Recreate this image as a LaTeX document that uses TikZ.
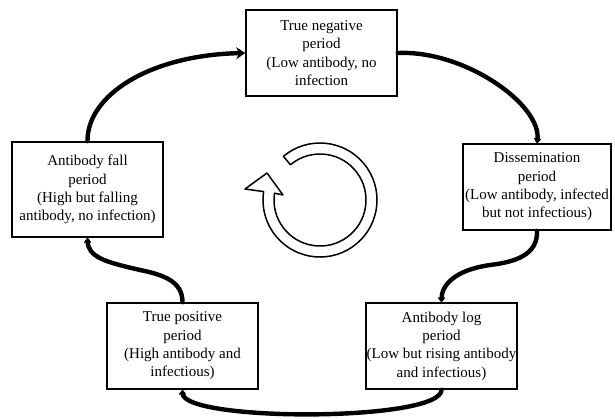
\documentclass[tikz,border=0pt]{standalone}
\usepackage{fontspec}
\setmainfont{Liberation Serif}
\usetikzlibrary{arrows.meta,calc}
\begin{document}
\begin{tikzpicture}[x=1pt,y=1pt,
  stagebox/.style={draw=black,line width=1.5pt,fill=white,inner sep=0pt,align=center,
    font=\fontsize{15}{18.3}\selectfont},
  flow/.style={line width=4.4pt,line cap=round,-{Stealth[length=9pt,width=12pt]}},
  flowsmall/.style={line width=4.4pt,line cap=round,-{Stealth[length=6pt,width=9pt,round]}}]
\useasboundingbox (0,0) rectangle (615,-418);
\node[stagebox,minimum width=151pt,minimum height=86pt] (tn) at (321.5,-53)
  {True negative\\period\\(Low antibody, no\\infection};
\node[stagebox,minimum width=151pt,minimum height=95pt] (af) at (87.5,-189.5)
  {Antibody fall\\period\\(High but falling\\antibody, no infection)};
\node[stagebox,minimum width=148pt,minimum height=86pt] (dp) at (537,-187)
  {Dissemination\\period\\(Low antibody, infected\\but not infectious)};
\node[stagebox,minimum width=151pt,minimum height=86pt] (tp) at (182.5,-346)
  {True positive\\period\\(High antibody and\\infectious)};
\node[stagebox,minimum width=151pt,minimum height=86pt] (al) at (441.5,-346)
  {Antibody log\\period\\(Low but rising antibody\\and infectious)};
% connectors
\draw[flow] (af.north) .. controls (87,-95) and (150,-55) .. (tn.west);
\draw[flowsmall] (tn.east) .. controls (465,-50) and (542,-105) .. (dp.north);
\coordinate (m1) at (490,-265);
\draw[flowsmall] (dp.south) .. controls (538,-255) and (515,-262) .. (m1)
  .. controls (455,-270) and (441.5,-285) .. (al.north);
\draw[flowsmall] (al.south) .. controls (441.5,-422) and (182.5,-422) .. (tp.south);
\coordinate (m2) at (140,-270);
\draw[flowsmall] (tp.north) .. controls (182.5,-282) and (165,-275) .. (m2)
  .. controls (105,-262) and (88,-257) .. (af.south);
% circular arrow
\coordinate (c) at (320,-200);
\draw[line width=1.5pt,line join=round,fill=white]
  ($(c)+(130:57)$) arc[start angle=130,end angle=-188.5,radius=57]
  -- (245,-189) -- (267,-173) -- (283,-195)
  -- ($(c)+(171.5:46)$) arc[start angle=171.5,end angle=490,radius=46]
  -- cycle;
\end{tikzpicture}
\end{document}
